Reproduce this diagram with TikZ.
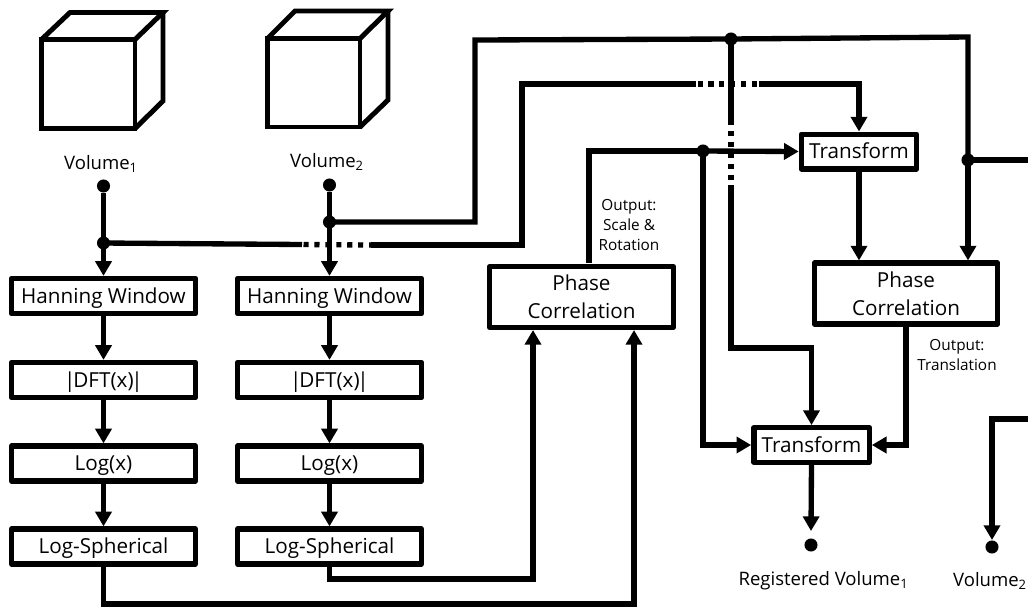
\documentclass[tikz,border=0pt]{standalone}
\usepackage{fontspec}
\setmainfont{Open Sans}
\usetikzlibrary{arrows.meta}
\tikzset{
 x=0.75pt,y=-0.75pt,
 wire/.style={line width=4pt,line join=miter},
 arr/.style={wire,-{Triangle[length=11pt,width=12pt]}},
 gapdash/.style={line width=4pt,dash pattern=on 3.8pt off 4.4pt},
 box/.style={draw,line width=4pt,line join=round,align=center,inner sep=0pt,text height=12pt,text depth=1pt,font=\fontsize{15.5}{20}\selectfont},
 wbox/.style={box,minimum width=138pt,minimum height=26.2pt},
 tbox/.style={box,minimum width=86.5pt,minimum height=26pt},
 pbox/.style={box,minimum width=137.7pt,minimum height=45.6pt,text height=,text depth=,font=\fontsize{15.5}{21}\selectfont},
 dot/.style={circle,fill=black,inner sep=0pt,minimum size=9.8pt},
 lab/.style={inner sep=0pt,font=\fontsize{13.9}{17}\selectfont},
 small/.style={inner sep=0pt,align=center,font=\fontsize{11.5}{15.2}\selectfont},
 cube/.style={line width=3.7pt,line join=miter},
}
\newcommand{\sub}[1]{\textsubscript{#1}}
\newcommand{\dft}{|\kern-1.6pt DFT(x)\kern-1.6pt |}
\begin{document}
\begin{tikzpicture}
\useasboundingbox (0,0) rectangle (1028,612);
% cubes
\draw[cube] (41.5,39.5) rectangle (135,128.5);
\draw[cube] (41.5,39.5) -- (70,12.5) -- (163,12.5) -- (135,39.5);
\draw[cube] (163,12.5) -- (163,101) -- (135,128.5);
\draw[cube] (267.5,38.5) rectangle (360,127);
\draw[cube] (267.5,38.5) -- (295,11) -- (388,11) -- (360,38.5);
\draw[cube] (388,11) -- (388,100) -- (360,127);
% labels
\node[lab] (v1) at (101,164) {Volume\sub{1}};
\node[lab] (v2) at (327,162) {Volume\sub{2}};
\node[lab] (rv) at (823.5,581) {Registered Volume\sub{1}};
\node[lab] (v3) at (990,581) {Volume\sub{2}};
\node[small] (o1) at (629,225) {Output:\\Scale \&\\Rotation};
\node[small] (o2) at (957,355) {Output:\\Translation};
% boxes
\node[wbox] (h1) at (103.5,296) {Hanning Window};
\node[wbox] (d1) at (103.5,380) {\dft};
\node[wbox] (l1) at (103.5,463.5) {Log(x)};
\node[wbox] (s1) at (103.5,546.5) {Log-Spherical};
\node[wbox] (h2) at (329.5,296) {Hanning Window};
\node[wbox] (d2) at (329.5,380) {\dft};
\node[wbox] (l2) at (329.5,463.5) {Log(x)};
\node[wbox] (s2) at (329.5,546.5) {Log-Spherical};
\node[pbox] (p1) at (581.5,297) {Phase\\Correlation};
\node[pbox] (p2) at (906,293.5) {Phase\\Correlation};
\node[tbox] (t1) at (859,151.5) {Transform};
\node[tbox] (t2) at (811.5,445) {Transform};
% dots
\node[dot] (a1) at (103.5,186) {};
\node[dot] (a2) at (329.5,185) {};
\node[dot] (j1) at (103.5,243) {};
\node[dot] (j2) at (329.5,222) {};
\node[dot] (j3) at (731,39) {};
\node[dot] (j4) at (703,151) {};
\node[dot] (j5) at (968,160) {};
\node[dot] (e1) at (811,545) {};
\node[dot] (e2) at (992,547) {};
% free ends and corners
\coordinate (r1) at (1028,160);
\coordinate (r2) at (1028,419);
\coordinate (c1) at (475,222);
\coordinate (c2) at (475,40);
\coordinate (c3) at (968,37);
\coordinate (g1) at (302,244.5);
\coordinate (g2) at (371,245);
\coordinate (c4) at (522,245);
\coordinate (c5) at (522,84);
\coordinate (g3) at (696,84);
\coordinate (g4) at (759,84);
\coordinate (g5) at (731,125);
\coordinate (g6) at (731,185);
\coordinate (c6) at (731,348);
\coordinate (c7) at (589,151);
\coordinate (c8) at (589,263);
\coordinate (c9) at (533,579);
\coordinate (c10) at (634,604);
\coordinate (i1) at (533,330);
\coordinate (i2) at (634,330);
\coordinate (t3) at (811,531);
\coordinate (t4) at (992,540);
% columns
\foreach \c in {1,2}{
 \draw[arr] (h\c.south) -- (d\c.north);
 \draw[arr] (d\c.south) -- (l\c.north);
 \draw[arr] (l\c.south) -- (s\c.north);
}
\draw[arr] (a1) -- (h1.north);
\draw[arr] (a2) -- (h2.north);
% to phase correlation 1
\draw[arr] (s2.south) |- (c9) -- (i1);
\draw[arr] (s1.south) |- (c10) -- (i2);
% top wire
\draw[wire] (j2.center) -- (c1) -- (c2) -- (j3.center) -- (c3) -- (j5.center);
\draw[arr] (j5.center) -- (j5 |- p2.north);
\draw[wire] (j5.center) -- (r1);
% second wire
\draw[wire] (j1.center) -- (g1);
\draw[gapdash] (g1) ++(1.5,0) -- (g2);
\draw[wire] (g2) -- (c4) -- (c5) -- (g3);
\draw[gapdash] (g3) ++(1.5,0) -- (g4);
\draw[arr] (g4) -| (t1.north);
% vertical from j3
\draw[wire] (j3.center) -- (g5);
\draw[gapdash] (g5) ++(0,6) -- (g6);
\draw[arr] (g6) -- (c6) -| (t2.north);
% output scale and rotation
\draw[wire] (c8) -- (c7) -- (j4.center);
\draw[arr] (j4.center) -- (t1.west);
\draw[arr] (j4.center) |- (t2.west);
% transform to phase 2
\draw[arr] (t1.south) -- (t1.south |- p2.north);
% translation
\draw[arr] (p2.south) |- (t2.east);
% outputs
\draw[arr] (t2.south) -- (t3);
\draw[arr] (r2) -| (t4);
\end{tikzpicture}
\end{document}
